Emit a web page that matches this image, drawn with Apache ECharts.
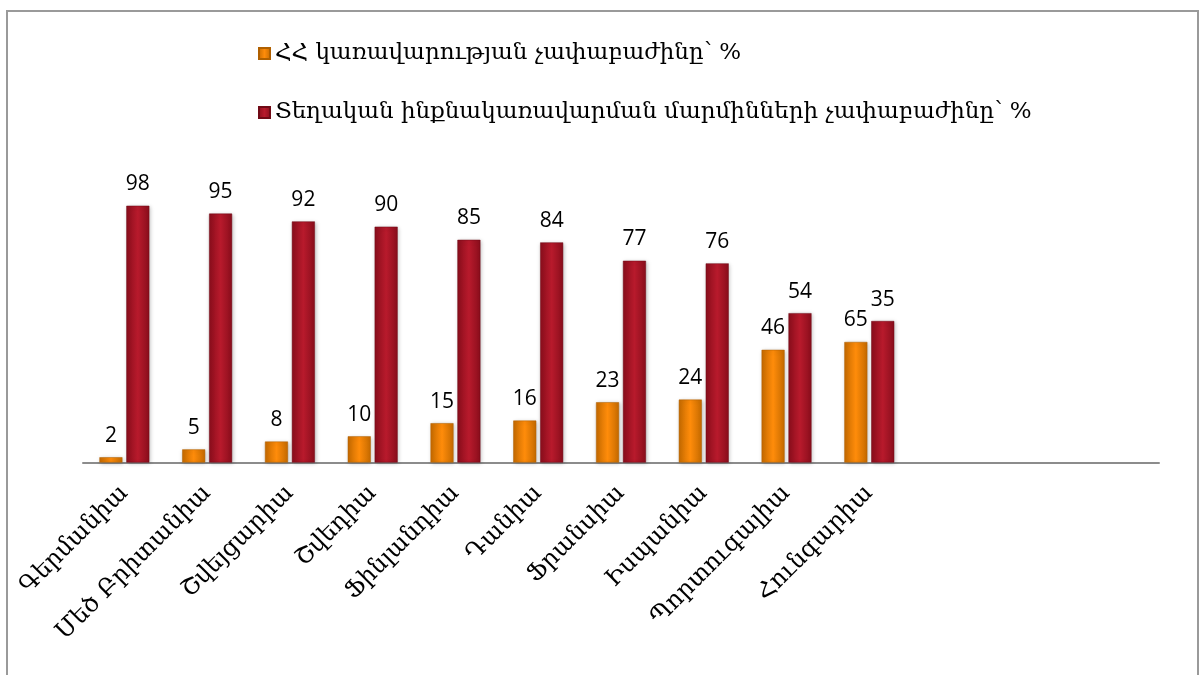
<!DOCTYPE html>
<html>
<head>
<meta charset="utf-8">
<script src="https://cdn.jsdelivr.net/npm/echarts@6/dist/echarts.min.js"></script>
<style>
html,body{margin:0;padding:0;background:#fff;}
#main{width:1202px;height:675px;}
</style>
</head>
<body>
<div id="main"></div>
<script>
const categories = ['Գերմանիա','Մեծ Բրիտանիա','Շվեյցարիա','Շվեդիա','Ֆինլանդիա','Դանիա','Ֆրանսիա','Իսպանիա','Պորտուգալիա','Հունգարիա','','',''];
const seriesNames = ['ՀՀ կառավարության չափաբաժինը՝ %','Տեղական ինքնակառավարման մարմինների չափաբաժինը՝ %'];
const govValues = [2,5,8,10,15,16,23,24,43,46];
const localValues = [98,95,92,90,85,84,77,76,57,54];
const govLabels = ['2','5','8','10','15','16','23','24','46','65'];
const localLabels = ['98','95','92','90','85','84','77','76','54','35'];

const chart = echarts.init(document.getElementById('main'));
function grad(edge, mid){
  return {type:'linear',x:0,y:0,x2:1,y2:0,colorStops:[
    {offset:0,color:edge},{offset:0.5,color:mid},{offset:1,color:edge}]};
}
const labelBase = {show:true,position:'top',distance:11,fontFamily:'Open Sans',fontSize:21,color:'#000'};
chart.setOption({
  animation:false,
  graphic:[{type:'rect',shape:{x:7,y:11,width:1191,height:700},style:{fill:'none',stroke:'#9a9a9a',lineWidth:2}}],
  legend:{
    orient:'vertical',left:253,top:37,itemGap:36,itemWidth:11,itemHeight:11,icon:'rect',
    textStyle:{fontFamily:'DejaVu Serif',fontSize:23,color:'#000'},
    data:seriesNames
  },
  grid:{left:83,right:43,top:200.5,bottom:212.5,containLabel:false},
  xAxis:{
    type:'category',data:categories,
    axisLine:{lineStyle:{color:'#8c8c8c',width:2}},
    axisTick:{show:false},
    axisLabel:{interval:0,rotate:45,margin:27,fontFamily:'DejaVu Serif',fontSize:24,color:'#000'}
  },
  yAxis:{type:'value',min:0,max:100,show:false,splitLine:{show:false}},
  series:[
    {name:seriesNames[0],type:'bar',data:govValues,barWidth:23,barGap:'17%',
     itemStyle:{color:grad('#c56a00','#ff8c0a'),borderColor:'#b06000',borderWidth:0.5,shadowColor:'rgba(0,0,0,0.25)',shadowBlur:4,shadowOffsetX:1,shadowOffsetY:1},
     label:Object.assign({},labelBase,{formatter:p=>govLabels[p.dataIndex]})},
    {name:seriesNames[1],type:'bar',data:localValues,barWidth:23,
     itemStyle:{color:grad('#8a0e1c','#b81a2c'),borderColor:'#700a16',borderWidth:0.5,shadowColor:'rgba(0,0,0,0.25)',shadowBlur:4,shadowOffsetX:1,shadowOffsetY:1},
     label:Object.assign({},labelBase,{formatter:p=>localLabels[p.dataIndex]})}
  ]
});
</script>
</body>
</html>
